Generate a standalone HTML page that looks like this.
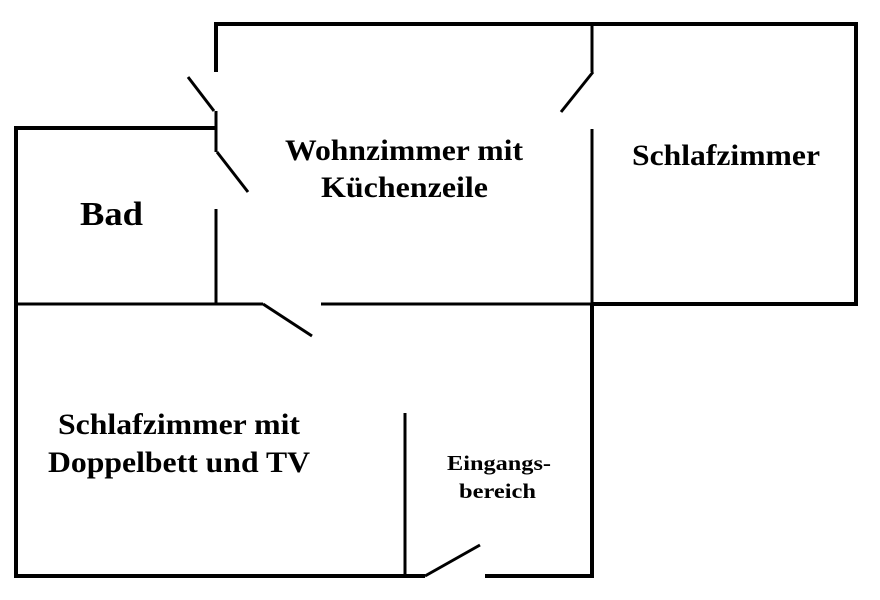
<!DOCTYPE html>
<html><head><style>body{margin:0;background:#fff}svg{display:block}text{font-family:"Liberation Serif",serif;font-weight:bold;fill:#000}</style></head>
<body>
<svg width="880" height="600" viewBox="0 0 880 600" xmlns="http://www.w3.org/2000/svg">
<g stroke="#000" fill="none" stroke-linecap="butt">
<g stroke-width="4">
<polyline points="216,72 216,24 856,24 856,304 592,304"/>
<polyline points="216,128 16,128 16,576 425,576"/>
<polyline points="485,576 592,576 592,303"/>
</g>
<g stroke-width="3">
<line x1="216" y1="111" x2="216" y2="152"/>
<line x1="216" y1="209" x2="216" y2="304"/>
<line x1="16" y1="304" x2="263" y2="304"/>
<line x1="321" y1="304" x2="592" y2="304"/>
<line x1="592" y1="24" x2="592" y2="72"/>
<line x1="592" y1="129" x2="592" y2="304"/>
<line x1="405" y1="413" x2="405" y2="576"/>
<line x1="188" y1="77" x2="214" y2="111"/>
<line x1="217" y1="152" x2="248" y2="192"/>
<line x1="263" y1="304" x2="312" y2="336"/>
<line x1="593" y1="72" x2="561" y2="112"/>
<line x1="425" y1="576" x2="480" y2="545"/>
</g>
</g>
<g lengthAdjust="spacingAndGlyphs">
<text x="285" y="160" font-size="30" textLength="238" lengthAdjust="spacingAndGlyphs">Wohnzimmer mit</text>
<text x="321" y="197" font-size="30" textLength="167" lengthAdjust="spacingAndGlyphs">Küchenzeile</text>
<text x="80" y="225" font-size="34" textLength="63" lengthAdjust="spacingAndGlyphs">Bad</text>
<text x="632" y="165" font-size="30" textLength="188" lengthAdjust="spacingAndGlyphs">Schlafzimmer</text>
<text x="58" y="434" font-size="30" textLength="242" lengthAdjust="spacingAndGlyphs">Schlafzimmer mit</text>
<text x="48" y="472" font-size="30" textLength="262" lengthAdjust="spacingAndGlyphs">Doppelbett und TV</text>
<text x="447" y="470" font-size="21" textLength="104" lengthAdjust="spacingAndGlyphs">Eingangs-</text>
<text x="459" y="498" font-size="21" textLength="77" lengthAdjust="spacingAndGlyphs">bereich</text>
</g>
</svg>
</body></html>
